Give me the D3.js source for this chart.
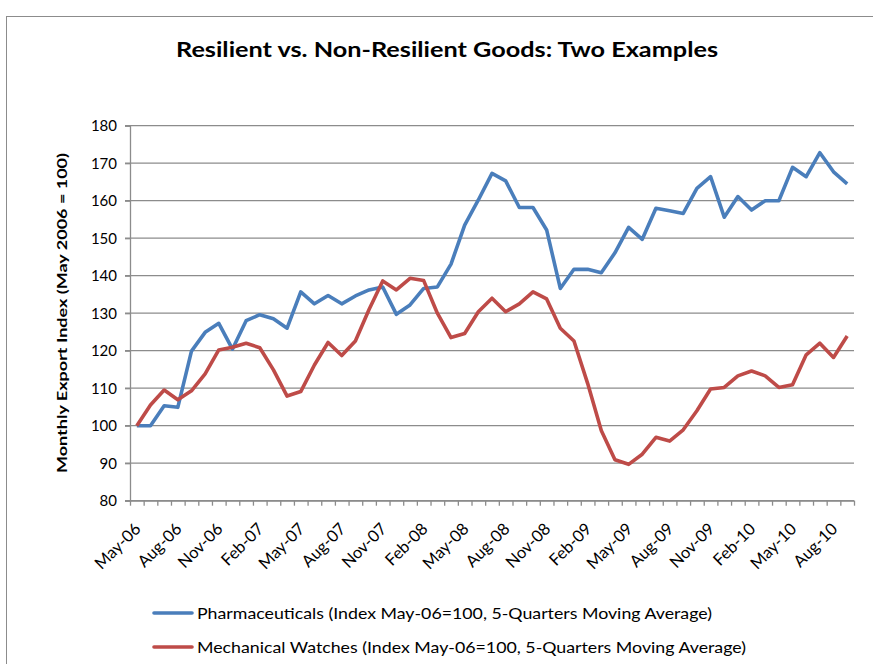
<!DOCTYPE html>
<html>
<head>
<meta charset="utf-8">
<script src="https://cdn.jsdelivr.net/npm/d3@7"></script>
<style>
  body { margin: 0; background: #fff; }
  text { font-family: Lato, "Noto Sans", sans-serif; fill: #000; }
</style>
</head>
<body>
<svg id="svg"></svg>
<script>
// Chart data
const months = [
  "May-06","Jun-06","Jul-06","Aug-06","Sep-06","Oct-06","Nov-06","Dec-06",
  "Jan-07","Feb-07","Mar-07","Apr-07","May-07","Jun-07","Jul-07","Aug-07","Sep-07","Oct-07","Nov-07","Dec-07",
  "Jan-08","Feb-08","Mar-08","Apr-08","May-08","Jun-08","Jul-08","Aug-08","Sep-08","Oct-08","Nov-08","Dec-08",
  "Jan-09","Feb-09","Mar-09","Apr-09","May-09","Jun-09","Jul-09","Aug-09","Sep-09","Oct-09","Nov-09","Dec-09",
  "Jan-10","Feb-10","Mar-10","Apr-10","May-10","Jun-10","Jul-10","Aug-10","Sep-10"
];

const pharma = [
  100, 100, 105.3, 104.9, 119.9, 124.9, 127.3, 120.4, 128, 129.6, 128.5, 126,
  135.7, 132.5, 134.7, 132.5, 134.6, 136.2, 137, 129.7, 132.2, 136.6, 137, 143.1,
  153.5, 160.2, 167.3, 165.3, 158.2, 158.2, 152.2, 136.6, 141.7, 141.7, 140.8, 146.1,
  152.9, 149.7, 158, 157.3, 156.6, 163.3, 166.4, 155.6, 161.1, 157.5, 160, 160,
  168.9, 166.4, 172.8, 167.7, 164.5
];

const watches = [
  100, 105.5, 109.5, 106.9, 109.3, 113.8, 120.2, 120.9, 122, 120.8, 114.9, 107.9,
  109.1, 116.2, 122.2, 118.7, 122.6, 131, 138.6, 136.2, 139.3, 138.7, 130, 123.5,
  124.6, 130.4, 134, 130.4, 132.5, 135.7, 133.8, 126, 122.6, 111.3, 98.7, 90.9,
  89.7, 92.4, 96.9, 95.9, 98.9, 104, 109.8, 110.2, 113.3, 114.6, 113.3, 110.2,
  110.9, 118.9, 122, 118.2, 123.9
];

const yTicks = [80, 90, 100, 110, 120, 130, 140, 150, 160, 170, 180];

const seriesNames = [
  "Pharmaceuticals (Index May-06=100, 5-Quarters Moving Average)",
  "Mechanical Watches (Index May-06=100, 5-Quarters Moving Average)"
];
const seriesColors = ["#4a7ebb", "#be4b48"];

// Dimensions
const width = 873, height = 664;
const plot = { left: 130, right: 854, top: 125.7, bottom: 500.7 };

const svg = d3.select("#svg")
    .attr("width", width)
    .attr("height", height);

// outer chart border
svg.append("rect")
    .attr("x", 6.5)
    .attr("y", 16.5)
    .attr("width", 900)
    .attr("height", 700)
    .attr("fill", "none")
    .attr("stroke", "#8c8c8c")
    .attr("stroke-width", 1);

// title
svg.append("text")
    .attr("x", 447)
    .attr("y", 57)
    .attr("text-anchor", "middle")
    .attr("font-size", 21)
    .attr("font-weight", "bold")
    .attr("textLength", 542)
    .attr("lengthAdjust", "spacingAndGlyphs")
    .text("Resilient vs. Non-Resilient Goods: Two Examples");

// scales
const x = d3.scaleBand()
    .domain(months)
    .range([plot.left, plot.right])
    .padding(0);

const xEdge = d3.scaleLinear()
    .domain([0, months.length])
    .range([plot.left, plot.right]);

const y = d3.scaleLinear()
    .domain([80, 180])
    .range([plot.bottom, plot.top]);

const cx = (i) => x(months[i]) + x.bandwidth() / 2;

// gridlines
svg.append("g")
    .selectAll("line")
    .data(yTicks)
    .enter()
    .append("line")
    .attr("x1", plot.left - 5)
    .attr("x2", plot.right)
    .attr("y1", (d) => y(d))
    .attr("y2", (d) => y(d))
    .attr("stroke", "#8c8c8c")
    .attr("stroke-width", 1.3);

// y axis
const yAxis = svg.append("g")
    .attr("transform", "translate(" + plot.left + ",0)")
    .call(d3.axisLeft(y).tickValues(yTicks).tickSize(5).tickPadding(8));
yAxis.select(".domain").attr("stroke", "#8c8c8c").attr("stroke-width", 1.3);
yAxis.selectAll(".tick line").attr("stroke", "#8c8c8c").attr("stroke-width", 1.3);
yAxis.selectAll(".tick text")
    .attr("font-size", 15)
    .attr("font-family", "Lato, sans-serif")
    .attr("fill", "#000");

// x axis (ticks on category edges)
const xAxis = svg.append("g")
    .attr("transform", "translate(0," + plot.bottom + ")")
    .call(d3.axisBottom(xEdge)
        .tickValues(d3.range(months.length + 1))
        .tickSize(5)
        .tickSizeOuter(0)
        .tickFormat(""));
xAxis.select(".domain").attr("stroke", "#8c8c8c").attr("stroke-width", 1.3);
xAxis.selectAll(".tick line").attr("stroke", "#8c8c8c").attr("stroke-width", 1.3);

// x labels every 3 months
svg.append("g")
    .selectAll("text")
    .data(months.filter((m, i) => i % 3 === 0))
    .enter()
    .append("text")
    .attr("text-anchor", "end")
    .attr("font-size", 16.5)
    .attr("transform", (m) => "translate(" + (x(m) + x.bandwidth() / 2 + 5) + ",530) rotate(-45)")
    .text((m) => m);

// y axis title
svg.append("text")
    .attr("transform", "translate(67,313) rotate(-90)")
    .attr("text-anchor", "middle")
    .attr("font-size", 14)
    .attr("font-weight", "bold")
    .attr("textLength", 320)
    .attr("lengthAdjust", "spacingAndGlyphs")
    .text("Monthly Export Index (May 2006 = 100)");

// lines
const line = d3.line()
    .x((d, i) => cx(i))
    .y((d) => y(d));

[pharma, watches].forEach((values, k) => {
    svg.append("path")
        .datum(values)
        .attr("d", line)
        .attr("fill", "none")
        .attr("stroke", seriesColors[k])
        .attr("stroke-width", 3.6)
        .attr("stroke-linejoin", "round");
});

// legend
const legendY = [613, 647];
const legendLen = [515, 549];
seriesNames.forEach((name, k) => {
    svg.append("line")
        .attr("x1", 154)
        .attr("x2", 192)
        .attr("y1", legendY[k])
        .attr("y2", legendY[k])
        .attr("stroke", seriesColors[k])
        .attr("stroke-width", 3.6)
        .attr("stroke-linecap", "round");
    svg.append("text")
        .attr("x", 197)
        .attr("y", legendY[k] + 5.5)
        .attr("font-size", 16)
        .attr("textLength", legendLen[k])
        .attr("lengthAdjust", "spacingAndGlyphs")
        .text(name);
});
</script>
</body>
</html>
